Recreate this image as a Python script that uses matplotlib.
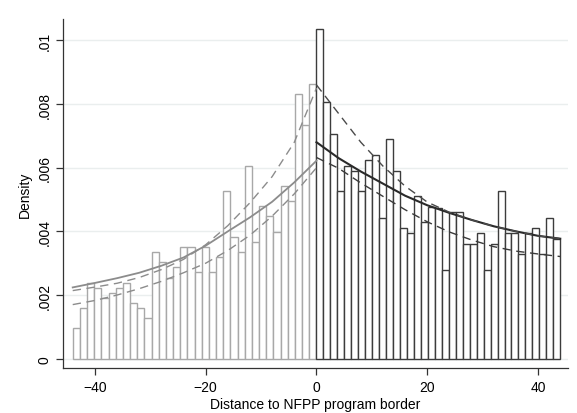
import numpy as np
import matplotlib
matplotlib.use("Agg")
from matplotlib import pyplot as plt

plt.rcParams['font.family'] = ['Liberation Sans', 'DejaVu Sans']

# histogram heights (density), left of the border: 34 bins on [-44, 0]
left_density = [0.00095, 0.00160, 0.00237, 0.00223, 0.00192, 0.00206, 0.00222,
                0.00237, 0.00175, 0.00160, 0.00127, 0.00336, 0.00303, 0.00254,
                0.00287, 0.00351, 0.00350, 0.00271, 0.00350, 0.00271, 0.00318,
                0.00527, 0.00381, 0.00336, 0.00606, 0.00367, 0.00480, 0.00449,
                0.00399, 0.00541, 0.00496, 0.00831, 0.00735, 0.00863]

# right of the border: 35 bins on [0, 44]
right_density = [0.01035, 0.00805, 0.00706, 0.00526, 0.00606, 0.00590, 0.00526,
                 0.00624, 0.00640, 0.00442, 0.00690, 0.00590, 0.00410, 0.00394,
                 0.00510, 0.00428, 0.00475, 0.00472, 0.00280, 0.00460, 0.00460,
                 0.00360, 0.00360, 0.00394, 0.00280, 0.00360, 0.00526, 0.00394,
                 0.00394, 0.00329, 0.00394, 0.00410, 0.00329, 0.00442, 0.00376]

# fitted curves
left_x = [-44, -40, -36, -32, -28, -24, -20, -16, -12, -8, -4, 0]
left_fit = [0.00224, 0.00238, 0.00253, 0.00270, 0.00292, 0.00318, 0.00355,
            0.00400, 0.00444, 0.00493, 0.00554, 0.00622]
left_hi = [0.00214, 0.00225, 0.00237, 0.00255, 0.00280, 0.00312, 0.00358,
           0.00418, 0.00490, 0.00572, 0.00680, 0.00850]
left_lo = [0.00170, 0.00183, 0.00200, 0.00220, 0.00243, 0.00270, 0.00300,
           0.00340, 0.00388, 0.00448, 0.00518, 0.00600]

right_x = [0, 4, 8, 12, 16, 20, 24, 28, 32, 36, 40, 44]
right_fit = [0.00680, 0.00630, 0.00588, 0.00550, 0.00512, 0.00482, 0.00458,
             0.00436, 0.00416, 0.00400, 0.00386, 0.00377]
right_hi = [0.00860, 0.00770, 0.00680, 0.00605, 0.00542, 0.00492, 0.00460,
            0.00436, 0.00416, 0.00400, 0.00386, 0.00377]
right_lo = [0.00632, 0.00598, 0.00552, 0.00510, 0.00468, 0.00430, 0.00398,
            0.00373, 0.00352, 0.00338, 0.00329, 0.00321]

yticks = [0, 0.002, 0.004, 0.006, 0.008, 0.01]
ytick_labels = ["0", ".002", ".004", ".006", ".008", ".01"]
xticks = [-40, -20, 0, 20, 40]

light = "#a8a8a8"
dark = "#3c3c3c"

fig = plt.figure(figsize=(5.77, 4.14), dpi=100)
ax = fig.add_axes([0.1097, 0.108, 0.8747, 0.8437])

left_edges = np.linspace(-44, 0, len(left_density) + 1)
right_edges = np.linspace(0, 44, len(right_density) + 1)

ax.bar(left_edges[:-1], left_density, width=np.diff(left_edges), align='edge',
       color='white', edgecolor=light, linewidth=1.0, zorder=2)
ax.bar(right_edges[:-1], right_density, width=np.diff(right_edges), align='edge',
       color='white', edgecolor=dark, linewidth=1.0, zorder=2)

ax.plot(left_x, left_fit, color="#8c8c8c", linewidth=1.3, zorder=3)
ax.plot(left_x, left_hi, color="#8c8c8c", linewidth=1.0, linestyle=(0, (6, 4)), zorder=3)
ax.plot(left_x, left_lo, color="#8c8c8c", linewidth=1.0, linestyle=(0, (6, 4)), zorder=3)
ax.plot(right_x, right_fit, color="#2a2a2a", linewidth=1.5, zorder=3)
ax.plot(right_x, right_hi, color="#4a4a4a", linewidth=1.0, linestyle=(0, (6, 4)), zorder=3)
ax.plot(right_x, right_lo, color="#3a3a3a", linewidth=1.0, linestyle=(0, (6, 4)), zorder=3)

ax.set_xlim(-45.7, 45.4)
ax.set_ylim(-0.0003, 0.01067)
ax.set_yticks(yticks)
ax.set_yticklabels(ytick_labels, rotation=90, va='center')
ax.set_xticks(xticks)
ax.grid(True, axis='y', color="#eaeeee", linewidth=1.0, zorder=0)
ax.set_axisbelow(True)

for s in ['top', 'right']:
    ax.spines[s].set_visible(False)
for s in ['left', 'bottom']:
    ax.spines[s].set_color("#333333")
    ax.spines[s].set_linewidth(0.9)
ax.tick_params(axis='both', colors="#333333", labelcolor="black", labelsize=10,
               length=5, width=0.9)

ax.set_xlabel("Distance to NFPP program border", fontsize=10, labelpad=2)
ax.set_ylabel("Density", fontsize=10, labelpad=4)

fig.savefig("out.png", dpi=100)
